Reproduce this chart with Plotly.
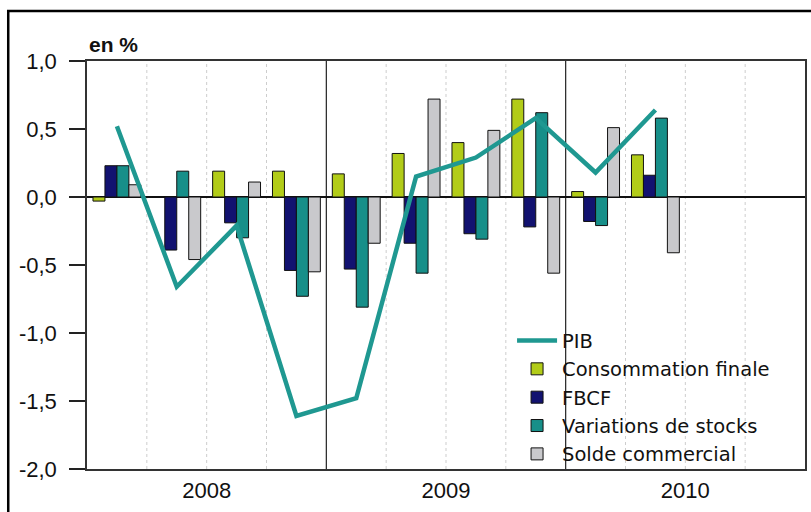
import plotly.graph_objects as go

# ---- data ----
quarters = ["2008T1", "2008T2", "2008T3", "2008T4",
            "2009T1", "2009T2", "2009T3", "2009T4",
            "2010T1", "2010T2", "2010T3", "2010T4"]
x_idx = list(range(len(quarters)))

consommation = [-0.03, 0.0, 0.19, 0.19, 0.17, 0.32, 0.40, 0.72, 0.04, 0.31, None, None]
fbcf = [0.23, -0.39, -0.19, -0.54, -0.53, -0.34, -0.27, -0.22, -0.18, 0.16, None, None]
variations = [0.23, 0.19, -0.30, -0.73, -0.81, -0.56, -0.31, 0.62, -0.21, 0.58, None, None]
solde = [0.09, -0.46, 0.11, -0.55, -0.34, 0.72, 0.49, -0.56, 0.51, -0.41, None, None]
pib = [0.52, -0.66, -0.21, -1.61, -1.48, 0.15, 0.29, 0.58, 0.18, 0.64, None, None]

year_tick_pos = [1.5, 5.5, 9.5]
year_labels = ["2008", "2009", "2010"]
y_tick_vals = [-2.0, -1.5, -1.0, -0.5, 0.0, 0.5, 1.0]
y_tick_text = ["-2,0", "-1,5", "-1,0", "-0,5", "0,0", "0,5", "1,0"]

year_bounds = [3.5, 7.5]
quarter_bounds = [0.5, 1.5, 2.5, 4.5, 5.5, 6.5, 8.5, 9.5, 10.5]

# ---- styles ----
C_CONS = "#b2cc18"
C_FBCF = "#121270"
C_VAR = "#178f89"
C_SOLDE = "#c9c9cc"
C_PIB = "#1f9891"
FONT = "Liberation Sans, Arial, sans-serif"
LEG_FONT = "DejaVu Sans, Verdana, sans-serif"

fig = go.Figure()

fig.add_trace(go.Scatter(x=x_idx, y=pib, name="PIB", mode="lines",
                         line=dict(color=C_PIB, width=4.5)))
for name, vals, col in [("Consommation finale", consommation, C_CONS),
                        ("FBCF", fbcf, C_FBCF),
                        ("Variations de stocks", variations, C_VAR),
                        ("Solde commercial", solde, C_SOLDE)]:
    fig.add_trace(go.Bar(x=x_idx, y=vals, name=name,
                         marker=dict(color=col, line=dict(color="#111111", width=1))))

shapes = []
for xb in quarter_bounds:
    shapes.append(dict(type="line", xref="x", yref="paper", x0=xb, x1=xb, y0=0, y1=1,
                       line=dict(color="#cdcdcd", width=1, dash="dot"), layer="below"))
for xb in year_bounds:
    shapes.append(dict(type="line", xref="x", yref="paper", x0=xb, x1=xb, y0=0, y1=1,
                       line=dict(color="#222222", width=1.2), layer="below"))
# outer frame of the picture
shapes.append(dict(type="rect", xref="paper", yref="paper",
                   x0=-0.1097, x1=1.2, y0=-0.3, y1=1.1225,
                   line=dict(color="#000000", width=2.5)))

fig.update_layout(
    width=811, height=512,
    margin=dict(l=87, r=4, t=61, b=43),
    paper_bgcolor="white", plot_bgcolor="white",
    barmode="group", bargap=0.2, bargroupgap=0,
    separators=", ",
    font=dict(family=FONT, size=22, color="#111111"),
    showlegend=True,
    legend=dict(x=0.592, y=0.362, xanchor="left", yanchor="top",
                bgcolor="rgba(0,0,0,0)", font=dict(size=19.5, family=LEG_FONT, color="#111111"),
                itemwidth=40, tracegroupgap=0),
    shapes=shapes,
    annotations=[dict(text="<b>en %</b>", x=0.0, y=1.04, xref="paper", yref="paper",
                      xanchor="left", yanchor="middle", showarrow=False,
                      font=dict(size=21, family=FONT, color="#111111"))],
)

fig.update_xaxes(range=[-0.5, 11.5], tickmode="array", tickvals=year_tick_pos,
                 ticktext=year_labels, ticks="", showgrid=False, zeroline=False,
                 showline=True, linecolor="#333333", linewidth=1.5, mirror=True,
                 ticklabelstandoff=1, tickfont=dict(size=22))
fig.update_yaxes(range=[-2.0, 1.0], tickmode="array", tickvals=y_tick_vals,
                 ticktext=y_tick_text, ticks="outside", ticklen=16, tickcolor="#222222",
                 tickwidth=1.5, showgrid=False, zeroline=True, zerolinecolor="#111111",
                 zerolinewidth=1.5, showline=True, linecolor="#333333", linewidth=1.5,
                 mirror=True, ticklabelstandoff=8, tickfont=dict(size=22))

fig.write_html("out.html", config={"displayModeBar": False},
               post_script="document.body.style.margin='0';document.documentElement.style.overflow='hidden';")
